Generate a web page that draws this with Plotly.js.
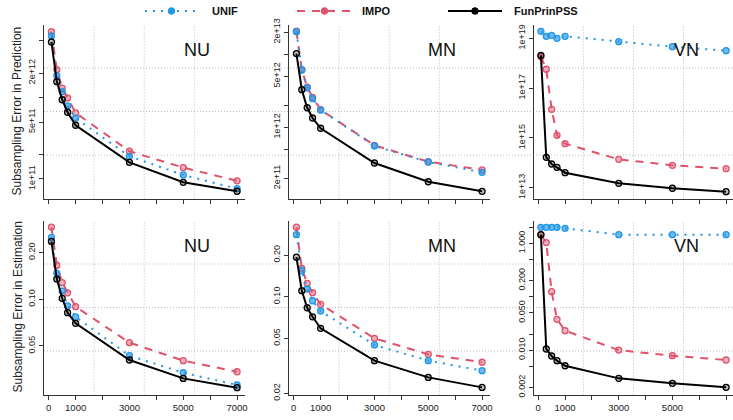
<!DOCTYPE html>
<html><head><meta charset="utf-8">
<script src="https://cdn.plot.ly/plotly-3.0.1.min.js"></script>
<style>html,body{margin:0;padding:0;background:#fff}#chart{width:733px;height:420px}</style>
</head><body><div id="chart"></div><script>
const sizes = [100,300,500,700,1000,3000,5000,7000];
const methods = ["UNIF","IMPO","FunPrinPSS"];
const panelLabels = ["NU","MN","VN"];
const rowTitles = ["Subsampling Error in Prediction","Subsampling Error in Estimation"];

// Prediction error
const predNU_UNIF = [5.71e12,1.86e12,1.18e12,7.9e11,5.6e11,1.9e11,1.12e11,7.6e10];
const predNU_IMPO = [6.45e12,2.21e12,1.31e12,9.9e11,6.5e11,2.19e11,1.38e11,9.5e10];
const predNU_FPP  = [4.82e12,1.57e12,9.4e11,6.6e11,4.57e11,1.6e11,9.1e10,7.06e10];
const predMN_UNIF = [2.03e13,6.08e12,3.45e12,2.46e12,1.72e12,5.55e11,3.35e11,2.42e11];
const predMN_IMPO = [2.06e13,6.14e12,3.53e12,2.57e12,1.74e12,5.67e11,3.38e11,2.61e11];
const predMN_FPP  = [1.02e13,3.27e12,1.85e12,1.34e12,9.7e11,3.25e11,1.8e11,1.33e11];
const predVN_UNIF = [1.91e19,1.2e19,1.32e19,1.0e19,1.2e19,7.3e18,4.6e18,3.18e18];
const predVN_IMPO = [1.82e18,5.7e17,1.41e16,1.27e15,5.85e14,1.38e14,7.9e13,5.8e13];
const predVN_FPP  = [2.07e18,1.66e14,8.95e13,6.6e13,4.0e13,1.5e13,9.5e12,6.9e12];
// Estimation error
const estNU_UNIF = [0.251,0.147,0.113,0.0906,0.0769,0.0433,0.0336,0.028];
const estNU_IMPO = [0.292,0.166,0.128,0.110,0.0896,0.0525,0.0402,0.0341];
const estNU_FPP  = [0.236,0.135,0.1015,0.082,0.070,0.0406,0.0309,0.0269];
const estMN_UNIF = [0.281,0.154,0.1137,0.0935,0.0788,0.0448,0.0345,0.0292];
const estMN_IMPO = [0.318,0.160,0.125,0.107,0.0881,0.050,0.0383,0.0336];
const estMN_FPP  = [0.193,0.1105,0.0832,0.0716,0.0591,0.0345,0.0261,0.0221];
const estVN_UNIF = [1.99,1.99,1.99,1.99,1.91,1.45,1.45,1.45];
const estVN_IMPO = [1.45,1.03,0.124,0.0377,0.0231,0.0100,0.00786,0.00653];
const estVN_FPP  = [1.45,0.0105,0.00776,0.00634,0.0051,0.00296,0.00239,0.00201];

// Tick values / labels
const xTicks = [0,1000,2000,3000,4000,5000,6000,7000];
const xTickText = ["0","1000","","3000","","5000","","7000"];
const yTicksPredNU = [1e11,2e11,5e11,1e12,2e12,5e12];
const yTextPredNU = ["1e+11","","5e+11","","2e+12",""];
const yTicksPredMN = [2e11,5e11,1e12,2e12,5e12,1e13,2e13];
const yTextPredMN = ["2e+11","","1e+12","","5e+12","","2e+13"];
const yTicksPredVN = [1e13,1e15,1e17,1e19];
const yTextPredVN = ["1e+13","1e+15","1e+17","1e+19"];
const yTicksEstNU = [0.05,0.10,0.20];
const yTextEstNU = ["0.05","0.10","0.20"];
const yTicksEstMN = [0.02,0.05,0.10,0.20];
const yTextEstMN = ["0.02","0.05","0.10","0.20"];
const yTicksEstVN = [0.002,0.005,0.01,0.02,0.05,0.1,0.2,0.5,1,2];
const yTextEstVN = ["0.002","","0.010","","0.050","","0.200","","1.000",""];

// ---- styling / layout ----
const W = 733, H = 420;
const colors = {UNIF:"#2297E6", IMPO:"#DF536B", FunPrinPSS:"#000000"};
const fills = {UNIF:"rgba(34,151,230,0.65)", IMPO:"rgba(223,83,107,0.45)", FunPrinPSS:"rgba(0,0,0,0.25)"};
const dashes = {UNIF:"2px,6px", IMPO:"8px,7px", FunPrinPSS:"solid"};
const xCols = [[44,244.5],[289,489.5],[533.5,733]];
const xRanges = [[-176,7276],[-176,7276],[-176,7257]];
const yRows = [[24.5,198.5],[220.5,394.5]];
const yRanges = [[10.760,12.898],[11.026,13.406],[12.566,19.554],[-1.614,-0.492],[-1.707,-0.449],[-2.831,0.427]];

const panels = [
  {row:0,col:0,data:{UNIF:predNU_UNIF,IMPO:predNU_IMPO,FunPrinPSS:predNU_FPP},tv:yTicksPredNU,tt:yTextPredNU},
  {row:0,col:1,data:{UNIF:predMN_UNIF,IMPO:predMN_IMPO,FunPrinPSS:predMN_FPP},tv:yTicksPredMN,tt:yTextPredMN},
  {row:0,col:2,data:{UNIF:predVN_UNIF,IMPO:predVN_IMPO,FunPrinPSS:predVN_FPP},tv:yTicksPredVN,tt:yTextPredVN},
  {row:1,col:0,data:{UNIF:estNU_UNIF,IMPO:estNU_IMPO,FunPrinPSS:estNU_FPP},tv:yTicksEstNU,tt:yTextEstNU},
  {row:1,col:1,data:{UNIF:estMN_UNIF,IMPO:estMN_IMPO,FunPrinPSS:estMN_FPP},tv:yTicksEstMN,tt:yTextEstMN},
  {row:1,col:2,data:{UNIF:estVN_UNIF,IMPO:estVN_IMPO,FunPrinPSS:estVN_FPP},tv:yTicksEstVN,tt:yTextEstVN}
];
const drawOrder = ["IMPO","UNIF","FunPrinPSS"];
const font = "Liberation Sans, Arial, sans-serif";
const traces = [];
const layout = {
  width:W, height:H, margin:{l:0,r:0,t:0,b:0}, showlegend:false,
  paper_bgcolor:"#fff", plot_bgcolor:"rgba(0,0,0,0)",
  font:{family:font, color:"#222"}, shapes:[], annotations:[]
};
const gridLine = {color:"#bdbdbd", width:1, dash:"1px,2px"};

panels.forEach((p,i)=>{
  const n = i+1, sfx = n===1?"":String(n);
  const xa = "x"+sfx, ya = "y"+sfx;
  drawOrder.forEach(m=>{
    traces.push({
      x:sizes, y:p.data[m], xaxis:xa, yaxis:ya, type:"scatter", mode:"lines+markers", name:m,
      line:{color:colors[m], width:2, dash:dashes[m]},
      marker:{size:6, color:fills[m], line:{color:colors[m], width:1.3}},
      cliponaxis:false
    });
  });
  const xd = xCols[p.col].map(v=>v/W);
  const yr = yRows[p.row];
  const yd = [1-yr[1]/H, 1-yr[0]/H];
  layout["xaxis"+sfx] = {
    domain:xd, range:xRanges[p.col], anchor:ya, showgrid:false, zeroline:false,
    showline:true, linecolor:"#333", linewidth:1, ticks:"outside", ticklen:4, tickcolor:"#333",
    tickvals:xTicks, ticktext:xTickText, showticklabels:p.row===1,
    tickfont:{size:9.5, color:"#222", family:font}
  };
  layout["yaxis"+sfx] = {
    domain:yd, type:"log", range:yRanges[i], anchor:xa, showgrid:false, zeroline:false,
    showline:true, linecolor:"#333", linewidth:1, ticks:"outside", ticklen:4, tickcolor:"#333",
    tickvals:p.tv, ticktext:p.tt, tickangle:-90, tickfont:{size:9, color:"#222", family:font}
  };
  // vertical grid (4 cells over the x range)
  const xr = xRanges[0];
  for (let k=1;k<4;k++){
    const gx = xr[0] + k*(xr[1]-xr[0])/4;
    layout.shapes.push({type:"line", layer:"below", xref:xa, yref:ya+" domain", x0:gx, x1:gx, y0:0, y1:1, line:gridLine});
  }
  // panel label
  layout.annotations.push({text:panelLabels[p.col], xref:xa+" domain", yref:ya+" domain",
    x:0.765, y:0.853, xanchor:"center", yanchor:"middle", showarrow:false,
    font:{size:18, color:"#111", family:font}});
});

// horizontal grid across each row
yRows.forEach((yr,r)=>{
  for (let k=1;k<4;k++){
    const py = yr[0] + k*(yr[1]-yr[0])/4;
    layout.shapes.push({type:"line", layer:"below", xref:"paper", yref:"paper",
      x0:44/W, x1:1, y0:1-py/H, y1:1-py/H, line:gridLine});
  }
  layout.annotations.push({text:rowTitles[r], xref:"paper", yref:"paper", x:17/W, y:1-(yr[0]+yr[1])/2/H,
    textangle:-90, showarrow:false, xanchor:"center", yanchor:"middle",
    font:{size:12, color:"#222", family:font}});
});

// legend (top)
const legendPos = [[145,198,210],[297,352,360],[448,502,512]];
methods.forEach((m,j)=>{
  const [a,b,t] = legendPos[j];
  const yy = 1-11/H;
  layout.shapes.push({type:"line", xref:"paper", yref:"paper", x0:a/W, x1:b/W, y0:yy, y1:yy,
    line:{color:colors[m], width:2, dash:dashes[m]}});
  const c = (a+b)/2;
  layout.shapes.push({type:"circle", xref:"paper", yref:"paper", x0:(c-3.3)/W, x1:(c+3.3)/W, y0:1-14.3/H, y1:1-7.7/H,
    fillcolor:colors[m], line:{color:colors[m], width:1}});
  layout.annotations.push({text:"<b>"+m+"</b>", xref:"paper", yref:"paper", x:t/W, y:yy,
    xanchor:"left", yanchor:"middle", showarrow:false, font:{size:11, color:"#111", family:font}});
});

Plotly.newPlot("chart", traces, layout, {displayModeBar:false, staticPlot:true});
</script></body></html>
